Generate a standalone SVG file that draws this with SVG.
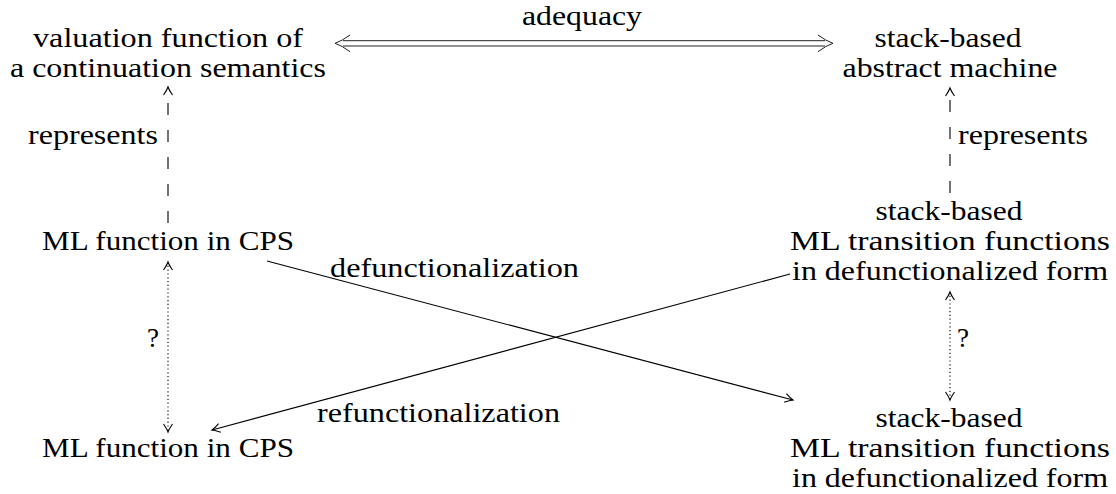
<svg xmlns="http://www.w3.org/2000/svg" width="1116" height="494" viewBox="0 0 1116 494">
<style>
text{font-family:"Liberation Serif","Times New Roman",serif;font-size:27px;fill:#000}
.c{text-anchor:middle}
.e{text-anchor:end}
.ln{stroke:#000;stroke-width:1.1;fill:none}
.dash{stroke:#000;stroke-width:1.1;fill:none;stroke-dasharray:12 15}
.dot{stroke:#000;stroke-width:1.1;fill:none;stroke-dasharray:1.2 2.6}
.dbl{stroke:#222;stroke-width:1;fill:none}
</style>
<defs>
<marker id="arr" markerUnits="userSpaceOnUse" markerWidth="14" markerHeight="14" viewBox="-10 -7 14 14" refX="0" refY="0" orient="auto-start-reverse">
<path d="M-8,-4.5 Q-3,-1 0,0 Q-3,1 -8,4.5" fill="none" stroke="#000" stroke-width="1.1" stroke-dasharray="none"/>
</marker>
</defs>
<g id="n-valuation">
<text class="c" x="168" y="47" textLength="270" lengthAdjust="spacingAndGlyphs">valuation function of</text>
<text class="c" x="168" y="77" textLength="316" lengthAdjust="spacingAndGlyphs">a continuation semantics</text>
</g>
<g id="n-machine">
<text class="c" x="948" y="47" textLength="147" lengthAdjust="spacingAndGlyphs">stack-based</text>
<text class="c" x="950" y="77" textLength="215" lengthAdjust="spacingAndGlyphs">abstract machine</text>
</g>
<g id="n-cps-top">
<text class="c" x="168" y="250" textLength="252" lengthAdjust="spacingAndGlyphs">ML function in CPS</text>
</g>
<g id="n-trans-top">
<text class="c" x="949" y="220" textLength="147" lengthAdjust="spacingAndGlyphs">stack-based</text>
<text class="c" x="950" y="250" textLength="320" lengthAdjust="spacingAndGlyphs">ML transition functions</text>
<text class="c" x="950" y="280" textLength="316" lengthAdjust="spacingAndGlyphs">in defunctionalized form</text>
</g>
<g id="n-cps-bot">
<text class="c" x="168" y="457" textLength="252" lengthAdjust="spacingAndGlyphs">ML function in CPS</text>
</g>
<g id="n-trans-bot">
<text class="c" x="949" y="427" textLength="147" lengthAdjust="spacingAndGlyphs">stack-based</text>
<text class="c" x="950" y="457" textLength="320" lengthAdjust="spacingAndGlyphs">ML transition functions</text>
<text class="c" x="950" y="487" textLength="316" lengthAdjust="spacingAndGlyphs">in defunctionalized form</text>
</g>
<g id="connectors">
<path class="dbl" d="M343,40.7 H825 M343,46 H825"/>
<path class="dbl" d="M350,35 Q342,41 335,43.3 Q342,45.6 350,51.7 M818,35 Q826,41 833,43.3 Q826,45.6 818,51.7"/>
<text class="c" x="582" y="25" textLength="120" lengthAdjust="spacingAndGlyphs">adequacy</text>
<line class="dash" x1="168" y1="223" x2="168" y2="87" marker-end="url(#arr)"/>
<text class="e" x="158" y="144" textLength="130" lengthAdjust="spacingAndGlyphs">represents</text>
<line class="dash" x1="950" y1="193" x2="950" y2="88" marker-end="url(#arr)"/>
<text x="958" y="144" textLength="130" lengthAdjust="spacingAndGlyphs">represents</text>
<line class="dot" x1="168" y1="262" x2="168" y2="432" marker-start="url(#arr)" marker-end="url(#arr)"/>
<text class="c" x="153" y="347">?</text>
<line class="dot" x1="950" y1="292" x2="950" y2="400" marker-start="url(#arr)" marker-end="url(#arr)"/>
<text class="c" x="963" y="347">?</text>
<line class="ln" x1="267" y1="261" x2="793" y2="400" marker-end="url(#arr)"/>
<text x="330" y="277" textLength="249" lengthAdjust="spacingAndGlyphs">defunctionalization</text>
<line class="ln" x1="790" y1="274" x2="212" y2="430" marker-end="url(#arr)"/>
<text x="317" y="422" textLength="243" lengthAdjust="spacingAndGlyphs">refunctionalization</text>
</g>
</svg>
